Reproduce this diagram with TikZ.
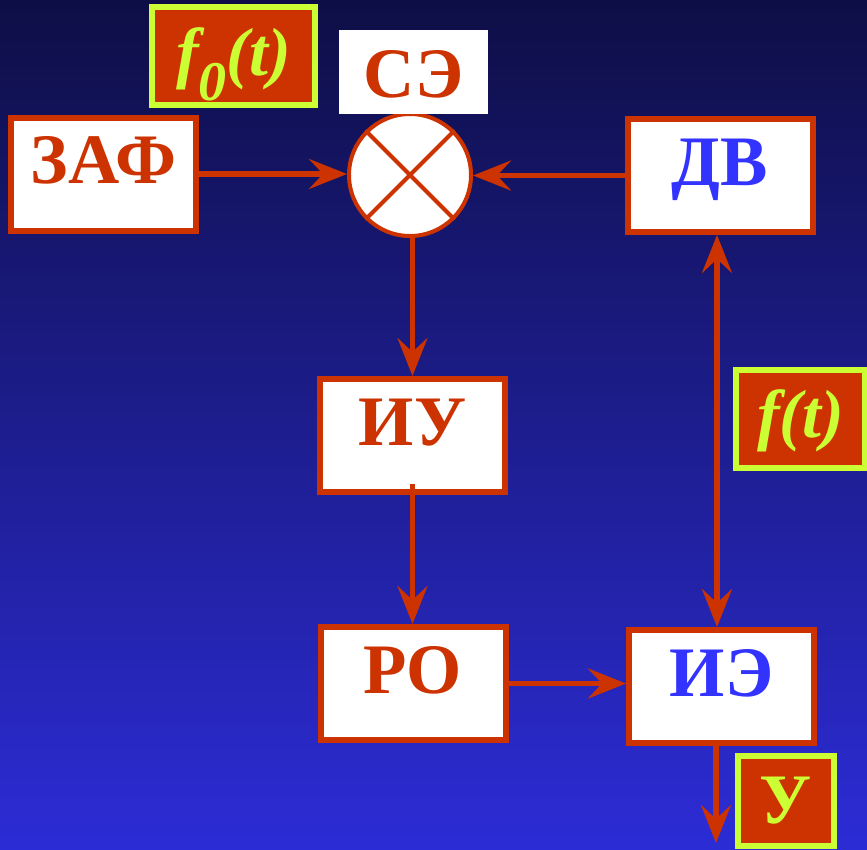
\documentclass[tikz,border=0pt]{standalone}
\usepackage{fontspec}
\setmainfont{Liberation Serif}
\usetikzlibrary{arrows.meta}
\definecolor{rd}{HTML}{CC3300}
\definecolor{yl}{HTML}{CCFF33}
\definecolor{bl}{HTML}{3333FF}
\definecolor{bgtop}{HTML}{0E0E46}
\definecolor{bgbot}{HTML}{2C2CD6}
\begin{document}
\begin{tikzpicture}[x=1pt,y=-1pt,
  blk/.style={draw=rd, line width=6pt, fill=white, inner sep=0pt, minimum width=185pt, minimum height=113pt, text height=66pt, text depth=47pt, font=\fontsize{71}{71}\selectfont\bfseries},
  tag/.style={draw=yl, line width=6pt, fill=rd, text=yl, inner sep=0pt, font=\fontsize{68}{68}\selectfont\bfseries\itshape},
  conn/.style={draw=rd, line width=5.5pt, -{Stealth[length=38pt,width=30pt,inset=14pt]}},
  dconn/.style={draw=rd, line width=5.5pt, {Stealth[length=38pt,width=30pt,inset=14pt]}-{Stealth[length=38pt,width=30pt,inset=14pt]}},
]
\useasboundingbox (0,0) rectangle (867,849);
\clip (0,0) rectangle (867,849);
\shade[top color=bgtop, bottom color=bgbot] (0,0) rectangle (867,849);

% summing element
\node[circle, draw=rd, line width=4pt, fill=white, minimum size=122pt, inner sep=0pt] (C) at (410,175) {};
\draw[rd, line width=4pt] (C.north west) -- (C.south east);
\draw[rd, line width=4pt] (C.north east) -- (C.south west);
\node[fill=white, inner sep=0pt, minimum width=149pt, minimum height=84pt, text height=67pt, text depth=17pt, text=rd, font=\fontsize{71}{71}\selectfont\bfseries] (SE) at (413.5,72) {СЭ};

% blocks
\node[blk, text=rd] (ZAF) at (103.5,174) {ЗАФ};
\node[blk, text=bl] (DV) at (720,175.5) {ДВ};
\node[blk, text=rd] (IU) at (412.5,435.5) {ИУ};
\node[blk, text=rd] (RO) at (413,683.5) {РО};
\node[blk, text=bl] (IE) at (721.5,686.5) {ИЭ};

% tags
\node[tag, minimum width=163pt, minimum height=98pt, text height=68pt, text depth=30pt] (F0) at (233.5,56) {f\raisebox{-25pt}{\fontsize{56}{56}\selectfont 0}(t)};
\node[tag, minimum width=129pt, minimum height=98pt, text height=67pt, text depth=31pt] (FT) at (800.5,419) {f(t)};
\node[tag, font=\fontsize{71}{71}\selectfont\bfseries, minimum width=96pt, minimum height=90pt, text height=67pt, text depth=23pt] (Y) at (786,801) {У};

% connectors
\coordinate (vx) at (717,0);
\coordinate (out) at (716,843);
\draw[conn] (ZAF.east) -- (ZAF.east -| C.west);
\draw[conn] (DV.west) -- (DV.west -| C.east);
\draw[conn] (C.south -| IU.north) -- (IU.north);
\draw[conn] ([yshift=11pt]IU.south) -- (IU.south |- RO.north);
\draw[conn] (RO.east) -- (RO.east -| IE.west);
\draw[dconn] (DV.south -| vx) -- (IE.north -| vx);
\draw[conn] (IE.south -| out) -- (out);
\end{tikzpicture}
\end{document}
